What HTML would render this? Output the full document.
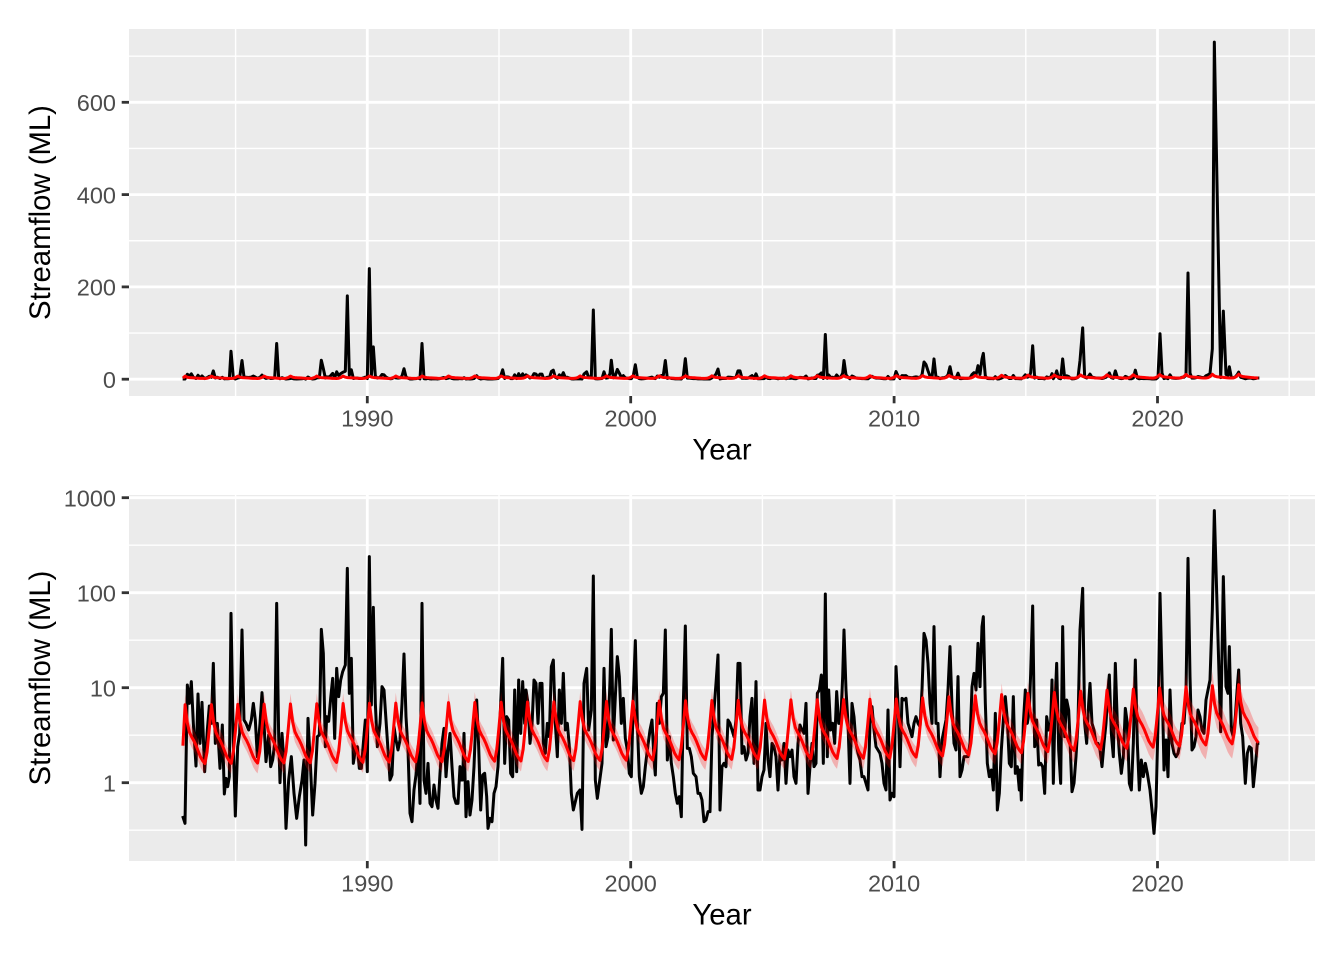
<!DOCTYPE html>
<html>
<head>
<meta charset="utf-8">
<style>
html,body{margin:0;padding:0;background:#fff;}
svg{display:block;}
text{font-family:"Liberation Sans",Arial,sans-serif;}
.tl{font-size:23.5px;fill:#4D4D4D;}
.at{font-size:29.3px;fill:#000;}
</style>
</head>
<body>
<svg id="chart" width="1344" height="960" viewBox="0 0 1344 960" xmlns="http://www.w3.org/2000/svg">
<defs>
<clipPath id="cTop"><rect x="129" y="29" width="1186" height="367"/></clipPath>
<clipPath id="cBot"><rect x="129" y="495" width="1186" height="366"/></clipPath>
</defs>
<rect x="0" y="0" width="1344" height="960" fill="#fff"/>

<!-- TOP PANEL -->
<rect x="129" y="29" width="1186" height="367" fill="#EBEBEB"/>
<g stroke="#fff" stroke-width="1.4">
<line x1="129" x2="1315" y1="333.05" y2="333.05"/>
<line x1="129" x2="1315" y1="240.75" y2="240.75"/>
<line x1="129" x2="1315" y1="148.45" y2="148.45"/>
<line x1="129" x2="1315" y1="56.15" y2="56.15"/>
<line y1="29" y2="396" x1="235.6" x2="235.6"/>
<line y1="29" y2="396" x1="499" x2="499"/>
<line y1="29" y2="396" x1="762.4" x2="762.4"/>
<line y1="29" y2="396" x1="1025.8" x2="1025.8"/>
<line y1="29" y2="396" x1="1289.2" x2="1289.2"/>
</g>
<g stroke="#fff" stroke-width="2.8">
<line x1="129" x2="1315" y1="379.2" y2="379.2"/>
<line x1="129" x2="1315" y1="286.9" y2="286.9"/>
<line x1="129" x2="1315" y1="194.6" y2="194.6"/>
<line x1="129" x2="1315" y1="102.3" y2="102.3"/>
<line y1="29" y2="396" x1="367.3" x2="367.3"/>
<line y1="29" y2="396" x1="630.7" x2="630.7"/>
<line y1="29" y2="396" x1="894.1" x2="894.1"/>
<line y1="29" y2="396" x1="1157.5" x2="1157.5"/>
</g>
<g id="dTop" clip-path="url(#cTop)"></g>
<g stroke="#333333" stroke-width="2.8">
<line x1="121.7" x2="129" y1="379.2" y2="379.2"/>
<line x1="121.7" x2="129" y1="286.9" y2="286.9"/>
<line x1="121.7" x2="129" y1="194.6" y2="194.6"/>
<line x1="121.7" x2="129" y1="102.3" y2="102.3"/>
<line y1="396" y2="403.3" x1="367.3" x2="367.3"/>
<line y1="396" y2="403.3" x1="630.7" x2="630.7"/>
<line y1="396" y2="403.3" x1="894.1" x2="894.1"/>
<line y1="396" y2="403.3" x1="1157.5" x2="1157.5"/>
</g>
<g class="tl" text-anchor="end">
<text x="116" y="388">0</text>
<text x="116" y="295.7">200</text>
<text x="116" y="203.4">400</text>
<text x="116" y="111.1">600</text>
</g>
<g class="tl" text-anchor="middle">
<text x="367.3" y="426.7">1990</text>
<text x="630.7" y="426.7">2000</text>
<text x="894.1" y="426.7">2010</text>
<text x="1157.5" y="426.7">2020</text>
</g>
<text class="at" x="722" y="459.5" text-anchor="middle">Year</text>
<text class="at" x="0" y="0" text-anchor="middle" transform="translate(50,212.5) rotate(-90)">Streamflow (ML)</text>

<!-- BOTTOM PANEL -->
<rect x="129" y="495" width="1186" height="366" fill="#EBEBEB"/>
<g stroke="#fff" stroke-width="1.4">
<line x1="129" x2="1315" y1="545.2" y2="545.2"/>
<line x1="129" x2="1315" y1="640.2" y2="640.2"/>
<line x1="129" x2="1315" y1="735.2" y2="735.2"/>
<line x1="129" x2="1315" y1="830.2" y2="830.2"/>
<line y1="495" y2="861" x1="235.6" x2="235.6"/>
<line y1="495" y2="861" x1="499" x2="499"/>
<line y1="495" y2="861" x1="762.4" x2="762.4"/>
<line y1="495" y2="861" x1="1025.8" x2="1025.8"/>
<line y1="495" y2="861" x1="1289.2" x2="1289.2"/>
</g>
<g stroke="#fff" stroke-width="2.8">
<line x1="129" x2="1315" y1="497.7" y2="497.7"/>
<line x1="129" x2="1315" y1="592.7" y2="592.7"/>
<line x1="129" x2="1315" y1="687.7" y2="687.7"/>
<line x1="129" x2="1315" y1="782.7" y2="782.7"/>
<line y1="495" y2="861" x1="367.3" x2="367.3"/>
<line y1="495" y2="861" x1="630.7" x2="630.7"/>
<line y1="495" y2="861" x1="894.1" x2="894.1"/>
<line y1="495" y2="861" x1="1157.5" x2="1157.5"/>
</g>
<g id="dBot" clip-path="url(#cBot)"></g>
<g stroke="#333333" stroke-width="2.8">
<line x1="121.7" x2="129" y1="497.7" y2="497.7"/>
<line x1="121.7" x2="129" y1="592.7" y2="592.7"/>
<line x1="121.7" x2="129" y1="687.7" y2="687.7"/>
<line x1="121.7" x2="129" y1="782.7" y2="782.7"/>
<line y1="861" y2="868.3" x1="367.3" x2="367.3"/>
<line y1="861" y2="868.3" x1="630.7" x2="630.7"/>
<line y1="861" y2="868.3" x1="894.1" x2="894.1"/>
<line y1="861" y2="868.3" x1="1157.5" x2="1157.5"/>
</g>
<g class="tl" text-anchor="end">
<text x="116" y="506.5">1000</text>
<text x="116" y="601.5">100</text>
<text x="116" y="696.5">10</text>
<text x="116" y="791.5">1</text>
</g>
<g class="tl" text-anchor="middle">
<text x="367.3" y="891.7">1990</text>
<text x="630.7" y="891.7">2000</text>
<text x="894.1" y="891.7">2010</text>
<text x="1157.5" y="891.7">2020</text>
</g>
<text class="at" x="722" y="924.5" text-anchor="middle">Year</text>
<text class="at" x="0" y="0" text-anchor="middle" transform="translate(50,678) rotate(-90)">Streamflow (ML)</text>
</svg>

<script>
(function(){
var NS="http://www.w3.org/2000/svg";
var Z3=[38,978,45,1000,52,585,58,640,64,575,70,700,78,828,84,612,90,760,96,637,104,845,112,720,118,648,124,700,130,520,136,760,142,700,150,835,157,705,163,912,168,865,173,890,178,860,183,370,190,760,196,978,203,770,209,730,216,420,222,690,228,700,236,720,244,690,250,640,256,690,262,800,270,700,276,608,282,700,288,815,296,735,302,830,308,810,314,760,320,340,326,740,330,878,336,730,342,820,348,1015,356,870,364,800,372,910,380,985,388,920,396,870,402,810,407,1065,414,685,421,820,428,975,435,880,442,740,448,735,454,418,460,490,466,770,470,680,476,694,482,625,488,565,494,745,500,535,506,620,512,570,518,545,526,525,532,235,538,610,544,505,550,820,556,780,562,770,568,835,574,835,580,760,586,690,592,845,598,200,604,645,610,352,616,640,622,770,630,700,636,590,642,600,648,690,654,780,660,870,666,855,672,710,678,750,684,780,690,750,696,640,702,492,708,680,714,780,720,970,726,995,732,900,738,855,744,770,750,940,756,340,762,870,768,910,774,820,780,940,786,950,792,885,798,930,804,955,810,850,816,760,822,715,828,860,834,780,840,730,846,830,852,920,858,940,864,940,870,830];
var Z4=[0,720,6,890,12,940,20,940,26,835,32,870,38,870,42,730,48,980,54,875,60,975,66,930,72,830,80,630,86,770,92,960,98,855,104,850,110,920,114,1015,120,985,126,995,132,910,138,890,144,830,152,640,158,505,164,820,170,680,176,690,182,850,188,860,194,600,200,845,206,570,212,730,218,575,224,700,228,600,234,640,240,760,246,705,252,570,258,580,264,700,270,580,276,580,280,760,286,790,292,700,298,740,304,530,310,510,316,700,322,800,328,600,334,700,340,550,346,720,352,700,358,770,364,910,370,960,376,935,382,910,390,900,396,1018,402,580,410,535,416,720,424,660,430,258,436,870,442,925,448,880,456,820,462,535,468,770,474,740,480,570,484,418,490,750,496,620,502,500,508,560,514,700,520,625,526,745,532,780,538,850,544,860,550,620,556,452,562,700,568,860,574,910,580,890,586,830,592,780,600,720,606,690,612,810,616,855,622,640,628,700,634,620,640,610,646,420,652,810,658,740,664,820,670,860,676,910,682,940,688,920,694,980,700,640,706,408,712,775,718,775,724,800,730,850,738,860,744,910,750,910,756,930,762,995,768,990,774,965,780,965,786,740,792,660,798,580,804,495,810,960,816,830,822,820,828,830,834,690,840,700,846,720,852,740,858,690,864,520,870,520];
var Z5=[0,690,6,720,12,760,18,740,24,520,30,570,36,790,42,770,48,810,54,790,60,680,66,625,72,820,78,575,84,900,90,900,96,860,102,840,108,700,114,810,120,860,126,760,132,770,138,800,144,900,150,790,156,810,162,760,168,880,174,780,180,800,186,780,192,860,198,880,204,760,210,705,216,720,222,730,228,640,234,910,240,830,246,760,252,830,258,820,262,610,268,600,274,555,280,820,286,312,292,800,296,600,302,720,308,700,314,760,320,605,326,700,332,700,338,560,342,420,348,600,354,700,360,880,366,640,372,680,378,760,384,790,390,810,396,860,402,860,408,880,414,900,420,700,426,650,432,720,438,770,444,780,450,790,456,820,462,880,468,900,474,660,480,930,486,910,492,920,498,530,504,640,510,830,516,625,522,630,528,625,534,700,540,720,546,740,552,700,558,680,564,700,570,710,576,600,582,430,588,450,594,520,600,640,606,700,612,410,618,700,624,700,630,860,636,750,642,720,648,690,654,600,660,470,666,650,672,760,678,780,684,560,690,860,696,840,702,800,708,800,714,800,720,760,726,590,732,550,738,600,744,460,750,590,756,410,760,380,766,640,772,820,778,860,784,840,790,900,796,670,802,960,808,910,814,780,820,690,826,620,832,690,838,820,844,830,850,620,856,850,862,830,868,900];
var Z6=[0,920,60,840,64,930,70,700,76,600,82,700,88,660,92,550,98,348,104,770,110,690,116,825,122,820,128,830,134,910,140,680,146,720,152,700,156,570,160,880,166,620,170,520,176,780,182,880,188,410,194,740,200,630,206,660,210,750,216,905,222,880,228,800,234,700,240,420,248,295,254,700,260,760,266,640,270,580,276,700,282,720,288,760,294,760,300,780,306,830,312,760,318,700,324,600,328,555,334,730,340,800,346,520,352,700,358,790,364,850,370,800,376,655,382,700,388,880,394,900,400,760,406,510,412,760,418,900,424,810,430,860,436,820,442,850,450,900,456,960,462,1030,468,950,474,700,480,310,486,560,492,840,498,750,504,860,510,600,516,760,522,790,528,800,534,790,540,760,546,700,552,700,558,610,564,205,570,560,576,780,582,770,588,740,594,660,600,680,606,720,612,730,618,630,624,600,630,570,637,360,643,62,662,725,670,260,678,590,684,610,688,470,694,720,700,740,706,680,712,590,716,540,722,700,728,740,736,880,742,790,748,770,754,775,760,890,766,830,772,760,778,760];
var bx=[],by=[];
function add(ox,oy,a,minzx){for(var i=0;i<a.length;i+=2){if(a[i]>minzx){bx.push(ox+a[i]/3);by.push(oy+a[i+1]/3);}}}
add(170,490,Z3,-1);add(450,490,Z4,30);add(730,490,Z5,30);add(1000,490,Z6,58);
function yb(lv){return 782.7-95*lv;}
function yt(v){return 379.2-0.4615*v;}
var pB="",pT="";
for(var i=0;i<bx.length;i++){
  var v=Math.pow(10,(782.7-by[i])/95);
  pB+=(i?"L":"M")+bx[i].toFixed(2)+","+by[i].toFixed(2);
  pT+=(i?"L":"M")+bx[i].toFixed(2)+","+yt(v).toFixed(2);
}
// red seasonal fit (Jan..Dec, log10)
var base=[0.62,0.88,0.69,0.59,0.54,0.50,0.45,0.39,0.33,0.29,0.26,0.38];
var rx=[],rl=[],rh=[];
for(var m=0;m<=490;m++){
  var t=1983+m/12;
  var tr;
  if(t<2010){tr=-0.06+0.06*(t-1983)/27;} else {tr=0.16*(t-2010)/13.8;}
  var tr2=Math.max(0,(t-2012)/11.8);
  rx.push(182.9+m*26.34/12);
  var b=base[m%12];
  if(m===0){b=0.45;}
  rl.push(b+tr);
  rh.push(0.11+0.05*tr2);
}
var redB="",redT="",ribB="",ribT="";
for(var j=0;j<rx.length;j++){
  var x=rx[j].toFixed(2);
  redB+=(j?"L":"M")+x+","+yb(rl[j]).toFixed(2);
  redT+=(j?"L":"M")+x+","+yt(Math.pow(10,rl[j])).toFixed(2);
  ribB+=(j?"L":"M")+x+","+yb(rl[j]+rh[j]).toFixed(2);
  ribT+=(j?"L":"M")+x+","+yt(Math.pow(10,rl[j]+rh[j])).toFixed(2);
}
for(var k=rx.length-1;k>=0;k--){
  var x2=rx[k].toFixed(2);
  ribB+="L"+x2+","+yb(rl[k]-rh[k]).toFixed(2);
  ribT+="L"+x2+","+yt(Math.pow(10,rl[k]-rh[k])).toFixed(2);
}
ribB+="Z";ribT+="Z";
function mk(g,d,stroke,fill,w){
  var p=document.createElementNS(NS,"path");
  p.setAttribute("d",d);
  p.setAttribute("stroke",stroke);
  p.setAttribute("fill",fill);
  if(w){p.setAttribute("stroke-width",w);p.setAttribute("stroke-linejoin","round");}
  g.appendChild(p);
}
var gT=document.getElementById("dTop"),gB=document.getElementById("dBot");
mk(gT,pT,"#000","none","3");
mk(gT,ribT,"none","rgba(255,0,0,0.25)",null);
mk(gT,redT,"#FF0000","none","3");
mk(gB,pB,"#000","none","3");
mk(gB,ribB,"none","rgba(255,0,0,0.25)",null);
mk(gB,redB,"#FF0000","none","3");
})();
</script>
</body>
</html>
